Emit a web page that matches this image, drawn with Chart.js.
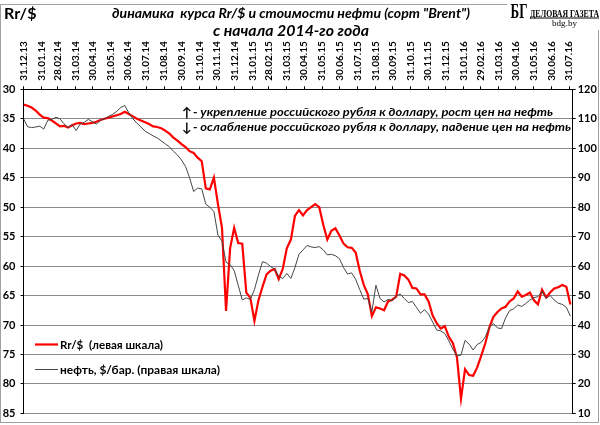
<!DOCTYPE html>
<html>
<head>
<meta charset="utf-8">
<script src="https://cdn.jsdelivr.net/npm/chart.js@4/dist/chart.umd.min.js"></script>
<style>
html,body{margin:0;padding:0;background:#fff;}
canvas{display:block;}
</style>
</head>
<body>
<canvas id="c" width="600" height="425"></canvas>
<script>
// ---- data (weekly readings starting 31.12.2013) ----
const startDate = '31.12.13';
const stepDays = 7;
const rubValues = [
32.6,32.8,33.1,33.6,34.3,34.8,34.9,35.3,35.8,36.3,
36.2,36.5,36.1,35.8,35.7,35.9,35.8,35.7,35.5,35.2,
35.0,34.8,34.6,34.4,34.2,33.8,34.2,34.6,35.0,35.3,
35.6,35.9,36.3,36.4,36.6,37.0,37.5,38.2,38.7,39.3,
39.8,40.5,40.8,41.6,42.2,46.8,47.0,45.0,49.5,53.5,
67.6,57.0,53.5,56.1,56.2,64.5,65.4,69.3,65.8,63.5,
61.4,60.8,60.5,62.2,60.5,57.0,55.5,51.5,50.5,51.4,
50.5,50.0,49.5,50.0,53.0,55.5,54.0,53.6,54.8,56.2,
56.8,56.9,57.7,60.8,63.2,64.8,68.5,67.0,67.2,67.5,
66.0,65.7,65.2,61.3,61.6,62.3,63.7,63.8,64.8,64.8,
66.0,68.4,69.7,70.6,70.2,72.0,73.1,75.5,82.5,77.5,
78.5,78.6,77.2,75.2,73.1,70.4,68.6,67.8,67.2,66.9,
66.0,65.5,64.3,65.2,64.9,64.5,65.8,66.5,64.0,65.3,
64.5,63.8,63.6,63.2,63.5,66.5
];
const oilValues = [
110.0,107.3,107.0,107.2,107.5,106.5,109.5,109.8,110.5,110.0,
108.3,107.0,108.0,106.0,108.2,108.8,109.8,109.0,108.2,109.5,
110.0,110.8,111.5,112.5,113.8,114.5,112.0,110.0,108.5,107.2,
105.8,105.0,104.2,103.5,102.5,101.5,100.5,99.0,97.7,96.0,
93.8,90.0,85.3,86.5,86.2,81.0,80.0,78.5,70.5,68.5,
61.3,60.5,58.5,53.5,48.5,49.2,48.7,52.0,57.0,61.5,
61.0,59.8,59.0,56.5,55.8,57.5,55.8,59.5,64.0,65.5,
67.0,66.5,66.3,66.6,65.5,63.8,64.0,63.5,62.5,59.5,
57.3,57.7,55.5,52.0,48.8,49.0,44.5,53.5,49.0,47.8,
48.7,48.2,49.8,50.5,49.0,47.6,48.0,46.0,44.0,45.2,
43.7,41.0,38.3,38.0,37.1,34.6,31.8,29.5,29.8,34.8,
33.5,31.5,33.4,34.1,36.0,39.3,40.5,39.0,38.8,42.4,
44.9,45.5,46.8,46.3,47.3,48.5,49.3,49.6,51.3,49.0,
50.0,48.5,47.4,47.0,46.0,43.0
];
const monthEndLabels = ['31.12.13','31.01.14','28.02.14','31.03.14','30.04.14','31.05.14','30.06.14','31.07.14','31.08.14','30.09.14','31.10.14','30.11.14','31.12.14','31.01.15','28.02.15','31.03.15','30.04.15','31.05.15','30.06.15','31.07.15','31.08.15','30.09.15','31.10.15','30.11.15','31.12.15','31.01.16','29.02.16','31.03.16','30.04.16','31.05.16','30.06.16','31.07.16'];
const lastDay = '06.08.16';
const rubAxis = {min:30, max:85, step:5};
const oilAxis = {min:10, max:120, step:10};
const seriesNames = ['Rr/$  (левая шкала)', 'нефть, $/бар. (правая шкала)'];
const axisTitle = 'Rr/$';
const titleLine1 = 'динамика  курса Rr/$ и стоимости нефти (сорт "Brent")';
const titleLine2 = 'с начала 2014-го года';
const noteUp = '- укрепление российского рубля к доллару, рост цен на нефть';
const noteDown = '- ослабление российского рубля к доллару, падение цен на нефть';
const logoMark = 'БГ';
const logoName = 'ДЕЛОВАЯ ГАЗЕТА';
const logoSite = 'bdg.by';

// ---- helpers ----
function parseD(s){const p=s.split('.');return Date.UTC(2000+ +p[2], +p[1]-1, +p[0]);}
const t0 = parseD(startDate);
const dayOf = s => Math.round((parseD(s)-t0)/86400000);
const monthEndDays = monthEndLabels.map(dayOf);
const rubPts = rubValues.map((v,i)=>({x:i*stepDays,y:v}));
const oilPts = oilValues.map((v,i)=>({x:i*stepDays,y:v}));

const FONT = "Lato, 'DejaVu Sans', sans-serif";
const SERIF = "'Liberation Serif', 'DejaVu Serif', serif";
const X_FONT_SIZE = 10;

function fitText(ctx, text, x, yBase, w, size, style, family){
  ctx.save();
  ctx.font = style + ' ' + size + 'px ' + family;
  ctx.textBaseline = 'alphabetic';
  ctx.textAlign = 'left';
  const m = ctx.measureText(text).width;
  ctx.translate(x, yBase);
  ctx.scale(w/m, 1);
  ctx.fillText(text, 0, 0);
  ctx.restore();
}

const decor = {
  id:'decor',
  afterDraw(chart){
    const ctx = chart.ctx;
    ctx.save();
    ctx.strokeStyle = '#a0a0a0'; ctx.lineWidth = 1;
    ctx.strokeRect(0.5, 4.5, 598, 418);
    ctx.fillStyle = '#fff';
    ctx.fillRect(507, 0, 93, 30);
    ctx.fillStyle = '#000';
    fitText(ctx, axisTitle, 4, 19, 32.5, 16, 'bold', FONT);
    fitText(ctx, titleLine1, 112, 18, 358, 14, 'italic bold', FONT);
    fitText(ctx, titleLine2, 213, 36, 156, 16, 'italic bold', FONT);
    ctx.font = 'bold 13px ' + FONT;
    ctx.textBaseline = 'alphabetic';
    ctx.fillText('↑', 182, 117);
    ctx.fillText('↓', 182, 132);
    fitText(ctx, noteUp, 193, 116, 360, 12, 'italic bold', FONT);
    fitText(ctx, noteDown, 193, 131, 378, 12, 'italic bold', FONT);
    const ds = chart.data.datasets;
    ctx.lineWidth = ds[0].borderWidth; ctx.strokeStyle = ds[0].borderColor;
    ctx.beginPath(); ctx.moveTo(35, 344.5); ctx.lineTo(58, 344.5); ctx.stroke();
    ctx.lineWidth = ds[1].borderWidth; ctx.strokeStyle = ds[1].borderColor;
    ctx.beginPath(); ctx.moveTo(35, 369.5); ctx.lineTo(58, 369.5); ctx.stroke();
    fitText(ctx, ds[0].label, 60, 348.5, 103, 12, 'bold', FONT);
    fitText(ctx, ds[1].label, 60, 373.5, 160, 12, 'bold', FONT);
    fitText(ctx, logoMark, 510.5, 17.5, 17, 21, 'bold', SERIF);
    fitText(ctx, logoName, 530, 16.5, 69, 10, 'bold', SERIF);
    ctx.fillRect(530, 17.5, 69, 1);
    fitText(ctx, logoSite, 552, 26, 25, 9, 'normal', SERIF);
    ctx.restore();
  }
};

Chart.defaults.font.family = FONT;
Chart.defaults.color = '#000';

new Chart(document.getElementById('c'), {
  type:'line',
  data:{
    datasets:[
      {label:seriesNames[0], data:rubPts, yAxisID:'yR', borderColor:'#ff0000', borderWidth:2.2, pointRadius:0, tension:0, order:1},
      {label:seriesNames[1], data:oilPts, yAxisID:'yO', borderColor:'#454545', borderWidth:1, pointRadius:0, tension:0, order:0}
    ]
  },
  options:{
    responsive:false,
    animation:false,
    devicePixelRatio:1,
    layout:{padding:{left:0,right:0,top:0,bottom:8}},
    plugins:{legend:{display:false}, title:{display:false}, tooltip:{enabled:false}},
    scales:{
      x:{
        type:'linear', position:'top', min:0, max:dayOf(lastDay),
        afterBuildTicks(s){ s.ticks = monthEndDays.map(v=>({value:v})); },
        afterFit(s){ s.height = 89.3; },
        ticks:{autoSkip:false, minRotation:90, maxRotation:90, padding:5.5,
          labelOffset: X_FONT_SIZE*1.2,
          font:{size:X_FONT_SIZE, weight:'bold', lineHeight:1.2},
          callback:(v,i)=>monthEndLabels[i]},
        grid:{drawOnChartArea:false, drawTicks:true, tickLength:3, color:'#000', tickColor:'#000'},
        border:{display:true, color:'#000', width:1}
      },
      yR:{
        type:'linear', position:'left', reverse:true, min:rubAxis.min, max:rubAxis.max,
        afterFit(s){ s.width = 23.5; },
        ticks:{stepSize:rubAxis.step, padding:5, font:{size:11, weight:'bold'}},
        grid:{color:'#8a8a8a', lineWidth:1, tickLength:3, tickColor:'#000'},
        border:{display:true, color:'#000', width:1}
      },
      yO:{
        type:'linear', position:'right', min:oilAxis.min, max:oilAxis.max,
        afterFit(s){ s.width = 27.3; },
        ticks:{stepSize:oilAxis.step, padding:2, font:{size:11, weight:'bold'}},
        grid:{drawOnChartArea:false, tickLength:3, tickColor:'#000'},
        border:{display:true, color:'#000', width:1}
      }
    }
  },
  plugins:[decor]
});
</script>
</body>
</html>
